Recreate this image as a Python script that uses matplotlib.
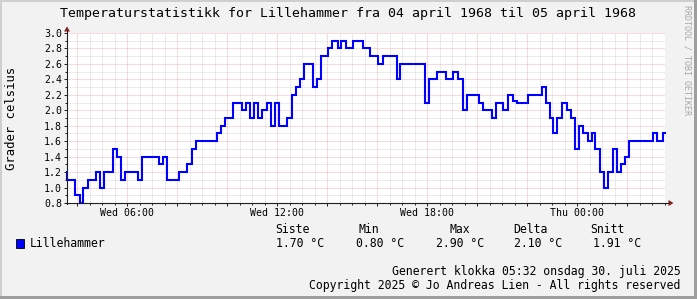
"""
Temperaturstatistikk Lillehammer, 04-05 april 1968 (rrdtool look-alike)
"""

import matplotlib

matplotlib.use("Agg")
import matplotlib.pyplot as plt
from matplotlib.patches import Polygon, Rectangle
from matplotlib.lines import Line2D
from matplotlib.ticker import MultipleLocator, FuncFormatter

W, H = 697, 299

# minutes after Wed 00:00 where a new reading starts, and the reading
times = [215, 215, 235, 245, 253, 265, 284, 294, 304, 326, 335, 345, 354,
         385, 396, 435, 446, 456, 484, 504, 515, 524, 575, 584, 594, 614,
         635, 644, 654, 664, 674, 684, 695, 704, 714, 724, 744, 755, 764,
         774, 784, 806, 815, 825, 842, 851, 866, 873, 884, 902, 925, 942,
         962, 974, 1006, 1014, 1074, 1084, 1104, 1125, 1142, 1154, 1165,
         1175, 1204, 1214, 1235, 1245, 1262, 1274, 1285, 1295, 1322, 1354,
         1365, 1374, 1382, 1392, 1404, 1415, 1424, 1434, 1444, 1454, 1466,
         1475, 1482, 1494, 1504, 1514, 1525, 1535, 1545, 1554, 1564, 1622,
         1632, 1646, 1650]
temps = [1.2, 1.1, 0.9, 0.8, 1.0, 1.1, 1.2, 1.0, 1.2, 1.5, 1.4, 1.1, 1.2,
         1.1, 1.4, 1.3, 1.4, 1.1, 1.2, 1.3, 1.5, 1.6, 1.7, 1.8, 1.9, 2.1,
         2.0, 2.1, 1.9, 2.1, 1.9, 2.0, 2.1, 1.8, 2.1, 1.8, 1.9, 2.2, 2.3,
         2.4, 2.6, 2.3, 2.4, 2.7, 2.8, 2.9, 2.8, 2.9, 2.8, 2.9, 2.8, 2.7,
         2.6, 2.7, 2.4, 2.6, 2.1, 2.4, 2.5, 2.4, 2.5, 2.4, 2.0,
         2.2, 2.1, 2.0, 1.9, 2.1, 2.0, 2.2, 2.12, 2.1, 2.2, 2.3,
         2.1, 1.9, 1.7, 1.9, 2.1, 2.0, 1.9, 1.5, 1.8, 1.7, 1.6,
         1.7, 1.5, 1.2, 1.0, 1.2, 1.5, 1.2, 1.3, 1.4, 1.6, 1.7,
         1.6, 1.7, 1.7]

tick_pos = [360, 720, 1080, 1440]
tick_labels = ["Wed 06:00", "Wed 12:00", "Wed 18:00", "Thu 00:00"]

stat_names = ["Siste", "Min", "Max", "Delta", "Snitt"]
stat_values = ["1.70 °C", "0.80 °C", "2.90 °C", "2.10 °C", "1.91 °C"]

TITLE = "Temperaturstatistikk for Lillehammer fra 04 april 1968 til 05 april 1968"
FOOT1 = "Generert klokka 05:32 onsdag 30. juli 2025"
FOOT2 = "Copyright 2025 © Jo Andreas Lien - All rights reserved"

BACK = "#f2f2f2"
AXIS = "#1f1f1f"
ARROW = "#801f1f"
MONO = "DejaVu Sans Mono"

plt.rcParams["font.family"] = [MONO, "DejaVu Sans"]


def fx(x):
    return x / W


def fy(y):
    return 1 - y / H


fig = plt.figure(figsize=(W / 100, H / 100), dpi=100, facecolor=BACK)

# graph area in pixels
L, R, T, B = 67, 665, 33, 203
ax = fig.add_axes([fx(L), fy(B), (R - L) / W, (B - T) / H])
ax.set_facecolor("white")
ax.set_xlim(215, 1650)
ax.set_ylim(0.8, 3.0)
for s in ax.spines.values():
    s.set_visible(False)

ax.xaxis.set_major_locator(MultipleLocator(120))
ax.xaxis.set_minor_locator(MultipleLocator(30))
lab = dict(zip(tick_pos, tick_labels))
ax.xaxis.set_major_formatter(FuncFormatter(lambda v, p: lab.get(int(round(v)), "")))
ax.yaxis.set_major_locator(MultipleLocator(0.2))
ax.yaxis.set_minor_locator(MultipleLocator(0.1))
ax.yaxis.set_major_formatter(FuncFormatter(lambda v, p: "%.1f" % v))

ax.grid(which="minor", color="#8f8f8f", alpha=0.35, linestyle=(0, (1, 1)), linewidth=0.72)
ax.grid(which="major", color="#de5050", alpha=0.4, linestyle=(0, (1, 1)), linewidth=0.72)
ax.set_axisbelow(True)
ax.tick_params(which="major", length=2, width=0.7, color=AXIS, labelsize=7.1, pad=1.5)
ax.tick_params(which="minor", length=1.2, width=0.7, color=AXIS)

ax.plot(times, temps, drawstyle="steps-post", color="#0000ff", linewidth=1.5,
        solid_joinstyle="miter", clip_on=False, zorder=5)

# axes with arrows
fig.add_artist(Line2D([fx(L), fx(L)], [fy(B + 1), fy(31)], color=AXIS, lw=0.8))
fig.add_artist(Line2D([fx(L - 2), fx(668)], [fy(B), fy(B)], color=AXIS, lw=0.8))
fig.add_artist(Polygon([(fx(L), fy(26.5)), (fx(L - 3), fy(31.5)), (fx(L + 3), fy(31.5))],
                       closed=True, color=ARROW, lw=0))
fig.add_artist(Polygon([(fx(673.5), fy(B)), (fx(668.5), fy(B - 3)), (fx(668.5), fy(B + 3))],
                       closed=True, color=ARROW, lw=0))

# texts
fig.text(fx(347.5), fy(13.5), TITLE, ha="center", va="center", fontsize=9.5)
fig.text(fx(12), fy(118), "Grader celsius", rotation=90, ha="center", va="center",
         fontsize=8.8)
fig.text(fx(687.5), fy(5), "RRDTOOL / TOBI OETIKER", rotation=-90, ha="center",
         va="top", fontsize=6, color="#a8a8a8")

name_x = [275.6, 359, 450, 513, 590]
val_x = [276.4, 356.4, 435.6, 514.2, 593.3]
for nx, name in zip(name_x, stat_names):
    fig.text(fx(nx), fy(229.5), name, ha="left", va="center", fontsize=8.3)
for vx, val in zip(val_x, stat_values):
    fig.text(fx(vx), fy(243.5), val, ha="left", va="center", fontsize=8.3)

fig.add_artist(Rectangle((fx(16), fy(247.5)), 8 / W, 8.5 / H, facecolor="#0000ff",
                         edgecolor="black", lw=0.6))
fig.text(fx(30.2), fy(243.5), "Lillehammer", ha="left", va="center", fontsize=8.3)

fig.text(fx(680.5), fy(271.5), FOOT1, ha="right", va="center", fontsize=8.3)
fig.text(fx(680.5), fy(285.5), FOOT2, ha="right", va="center", fontsize=8.3)

# 3d frame
fig.add_artist(Rectangle((0, 1 - 2 / H), 1, 2 / H, color="#cfcfcf", lw=0))
fig.add_artist(Rectangle((0, 0), 2 / W, 1, color="#cfcfcf", lw=0))
fig.add_artist(Rectangle((0, 0), 1, 3 / H, color="#9e9e9e", lw=0))
fig.add_artist(Rectangle((1 - 3 / W, 0), 3 / W, 1, color="#9e9e9e", lw=0))

fig.savefig("out.png", dpi=100, facecolor=BACK)
